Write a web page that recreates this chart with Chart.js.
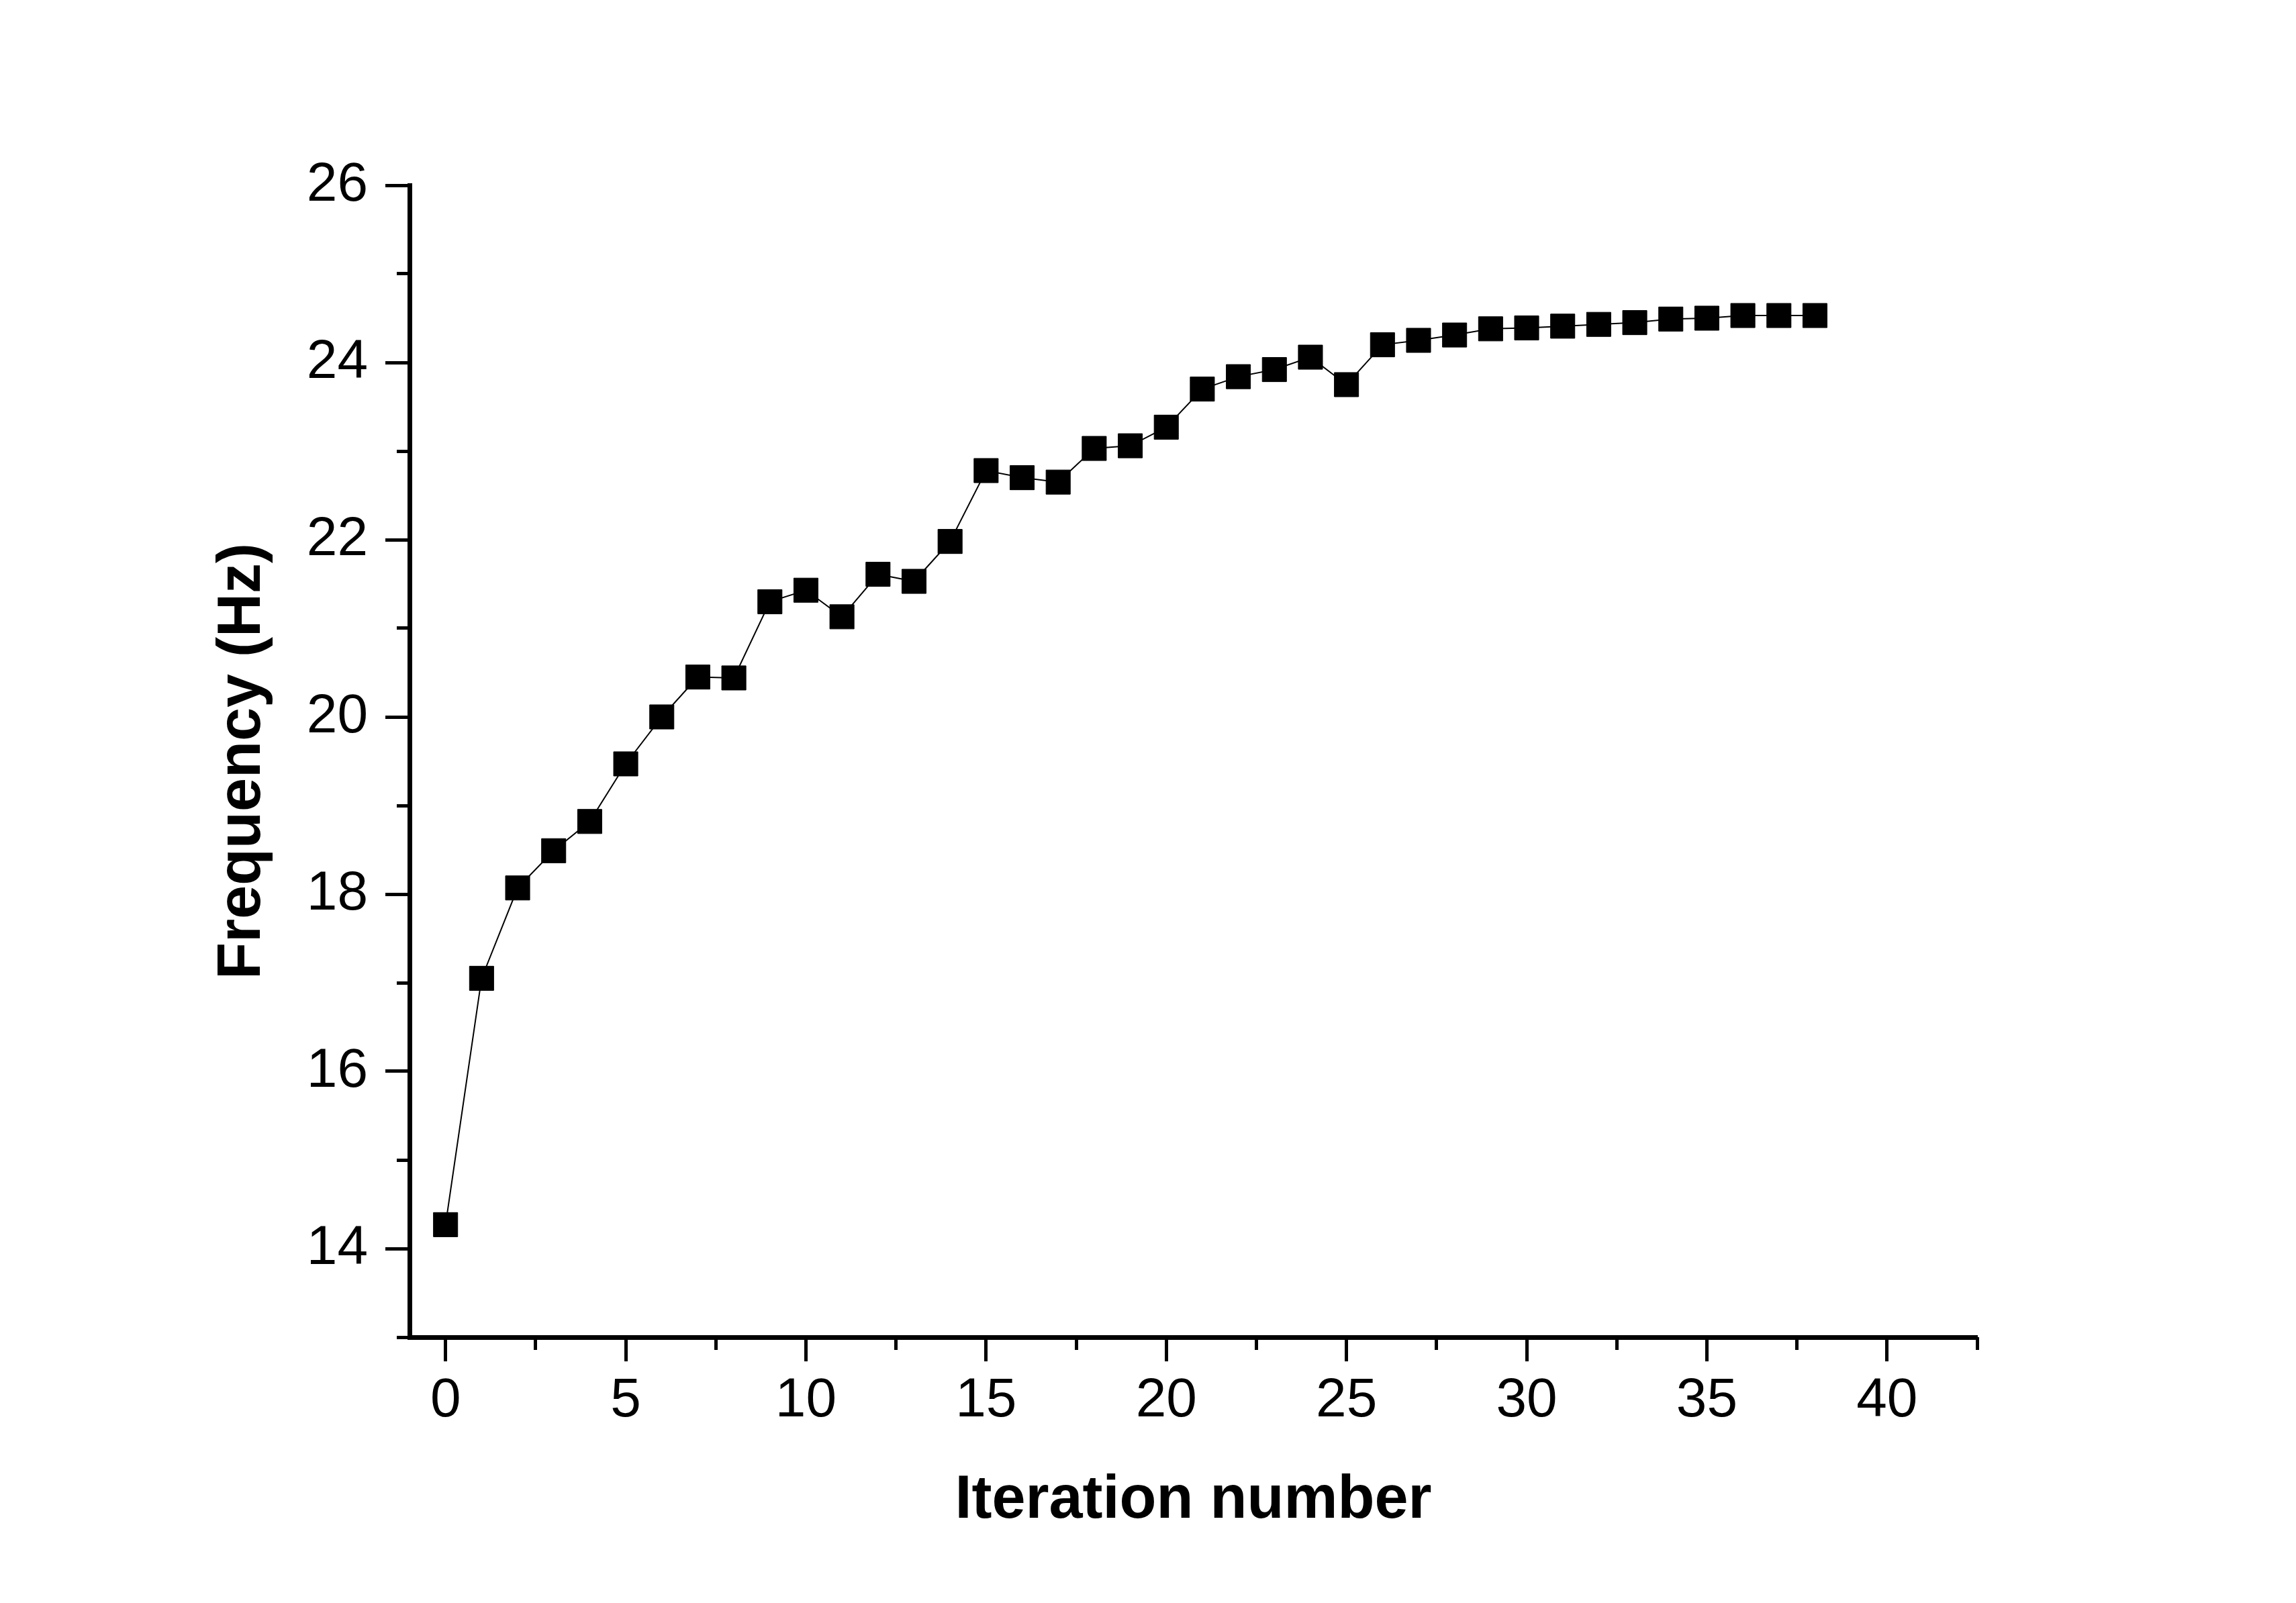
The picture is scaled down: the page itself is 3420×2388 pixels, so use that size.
<!DOCTYPE html>
<html>
<head>
<meta charset="utf-8">
<script src="https://cdn.jsdelivr.net/npm/chart.js@4/dist/chart.umd.min.js"></script>
<style>
  html, body { margin: 0; padding: 0; background: #fff; }
  #wrap { width: 3420px; height: 2388px; position: relative; }
</style>
</head>
<body>
<div id="wrap"><canvas id="freqChart"></canvas></div>
<script>
// iteration number (x) and measured frequency in Hz (y)
const iterations = [0, 1, 2, 3, 4, 5, 6, 7, 8, 9, 10, 11, 12, 13, 14, 15, 16, 17, 18, 19,
                    20, 21, 22, 23, 24, 25, 26, 27, 28, 29, 30, 31, 32, 33, 34, 35, 36, 37, 38];
const frequency = [14.27, 17.05, 18.07, 18.49, 18.82, 19.47, 20.00, 20.45, 20.44, 21.30,
                   21.43, 21.13, 21.61, 21.53, 21.98, 22.78, 22.70, 22.65, 23.03, 23.06,
                   23.27, 23.70, 23.84, 23.92, 24.06, 23.75, 24.20, 24.25, 24.31, 24.38,
                   24.39, 24.41, 24.43, 24.45, 24.49, 24.50, 24.53, 24.53, 24.53];

const xMajorTicks = [0, 5, 10, 15, 20, 25, 30, 35, 40];
const yMajorTicks = [14, 16, 18, 20, 22, 24, 26];

const font = 'Liberation Sans, Arial, Helvetica, sans-serif';

const ctx = document.getElementById('freqChart').getContext('2d');

new Chart(ctx, {
    type: 'line',
    data: {
        datasets: [
            {
                label: 'Frequency',
                data: iterations.map((it, i) => ({x: it, y: frequency[i]})),
                borderColor: '#000',
                borderWidth: 2,
                backgroundColor: '#000',
                pointStyle: 'rect',
                pointRadius: 25.5,
                pointBorderWidth: 1,
                pointBackgroundColor: '#000',
                pointBorderColor: '#000',
                tension: 0,
                fill: false,
                xAxisID: 'x',
                yAxisID: 'y'
            }
        ]
    },
    options: {
        responsive: true,
        maintainAspectRatio: false,
        animation: false,
        layout: {
            padding: {left: 300, top: 276, right: 475, bottom: 96}
        },
        plugins: {
            legend: {display: false},
            tooltip: {enabled: false}
        },
        scales: {
            x: {
                type: 'linear',
                position: 'bottom',
                min: -1,
                max: 42.5,
                afterBuildTicks: (scale) => {
                    scale.ticks = xMajorTicks.map(v => ({value: v}));
                },
                afterFit: (scale) => { scale.height = 300; },
                border: {display: true, color: '#000', width: 7},
                grid: {
                    drawOnChartArea: false,
                    drawTicks: true,
                    tickLength: 36,
                    tickWidth: 5,
                    tickColor: '#000'
                },
                ticks: {
                    color: '#000',
                    padding: 10,
                    maxRotation: 0,
                    autoSkip: false,
                    font: {family: font, size: 82}
                },
                title: {
                    display: true,
                    text: 'Iteration number',
                    color: '#000',
                    padding: {top: 0, bottom: 2},
                    font: {family: font, size: 90, weight: 'bold'}
                }
            },
            xMinor: {
                type: 'linear',
                position: {y: 13},
                min: -1,
                max: 42.5,
                afterBuildTicks: (scale) => {
                    scale.ticks = scale.ticks.filter(t => t.value >= 0 && t.value % 5 !== 0);
                },
                ticks: {stepSize: 2.5, display: false},
                border: {display: false},
                grid: {
                    drawOnChartArea: false,
                    tickLength: 19,
                    tickWidth: 5,
                    tickColor: '#000'
                }
            },
            y: {
                type: 'linear',
                position: 'left',
                min: 13,
                max: 26,
                afterBuildTicks: (scale) => {
                    scale.ticks = yMajorTicks.map(v => ({value: v}));
                },
                afterFit: (scale) => { scale.width = 310; },
                border: {display: true, color: '#000', width: 7},
                grid: {
                    drawOnChartArea: false,
                    tickLength: 36,
                    tickWidth: 5,
                    tickColor: '#000'
                },
                ticks: {
                    color: '#000',
                    padding: 26,
                    autoSkip: false,
                    font: {family: font, size: 82}
                },
                title: {
                    display: true,
                    text: 'Frequency (Hz)',
                    color: '#000',
                    padding: {top: 8, bottom: 0},
                    font: {family: font, size: 90, weight: 'bold'}
                }
            },
            yMinor: {
                type: 'linear',
                position: {x: -1},
                min: 13,
                max: 26,
                afterBuildTicks: (scale) => {
                    scale.ticks = scale.ticks.filter(t => t.value % 2 !== 0);
                },
                ticks: {stepSize: 1, display: false},
                border: {display: false},
                grid: {
                    drawOnChartArea: false,
                    tickLength: 19,
                    tickWidth: 5,
                    tickColor: '#000'
                }
            }
        }
    }
});
</script>
</body>
</html>
